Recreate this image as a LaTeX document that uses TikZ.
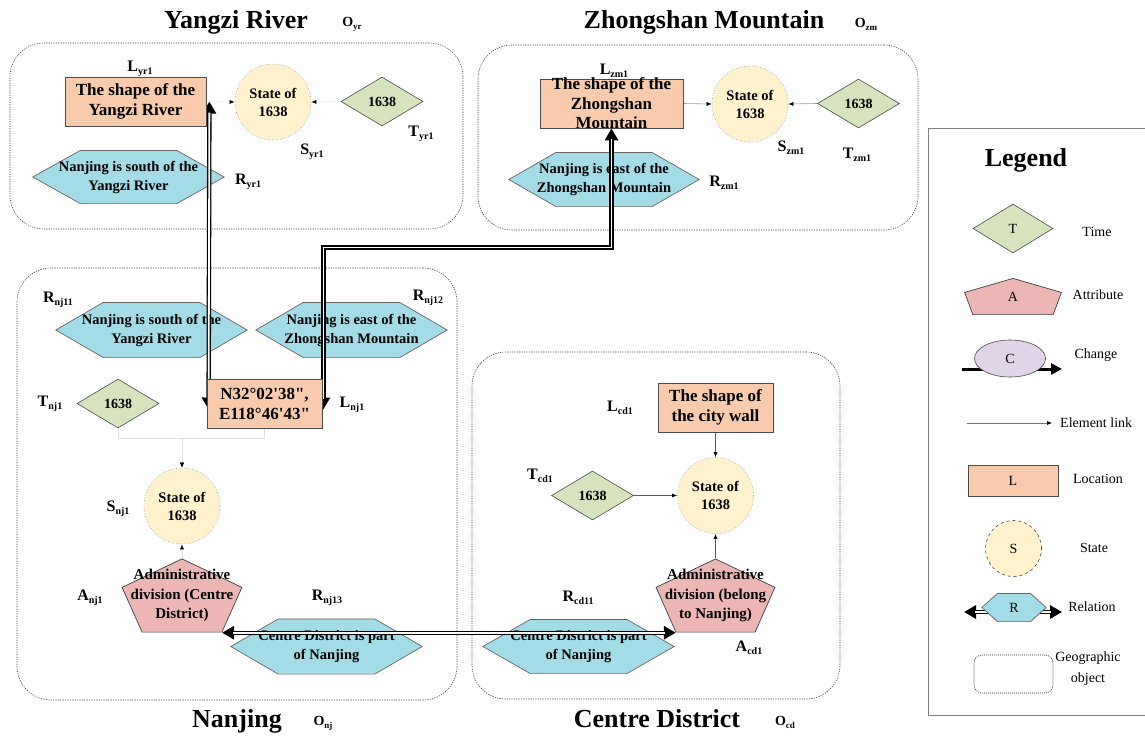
\documentclass[tikz,border=0pt]{standalone}
\usepackage{fontspec}
\setmainfont{Liberation Serif}
\newfontfamily\plainserif{Liberation Serif}[Ligatures=TeXOff]
\usetikzlibrary{arrows.meta,calc,shapes.geometric}
\definecolor{locfill}{HTML}{F8CBAD}
\definecolor{statefill}{HTML}{FFF2CC}
\definecolor{timefill}{HTML}{D6E3BC}
\definecolor{attrfill}{HTML}{EBB6B4}
\definecolor{relfill}{HTML}{A3DBE6}
\definecolor{chgfill}{HTML}{E0D4E8}
\pgfdeclarelayer{bglayer}
\pgfdeclarelayer{hexlayer}
\pgfdeclarelayer{connlayer}
\pgfsetlayers{bglayer,hexlayer,connlayer,main}
\newcommand\lbl[2]{#1\raisebox{-.45ex}{\fontsize{10}{10}\selectfont\bfseries #2}}
\newcommand\olbl[2]{#1\raisebox{-.45ex}{\fontsize{9}{9}\selectfont\bfseries #2}}
\begin{document}
\begin{tikzpicture}[x=1pt,y=-1pt,
 geobox/.style={draw=black!70, dash pattern=on 1.2pt off 1.2pt, line width=0.6pt, rounded corners=34pt},
 title/.style={font=\bfseries\fontsize{26}{30}\selectfont, inner sep=0pt},
 olab/.style={font=\bfseries\fontsize{14}{16}\selectfont, inner sep=0pt},
 nlab/.style={font=\bfseries\fontsize{16}{18}\selectfont, inner sep=0pt},
 locbox/.style={draw=black!70, fill=locfill, line width=0.8pt, inner sep=0pt, align=center, font=\bfseries\fontsize{17}{20}\selectfont},
 loctext/.style={inner sep=0pt, align=center, font=\bfseries\fontsize{17}{19.5}\selectfont},
 statec/.style={circle, fill=statefill, draw=black!35, dotted, line width=0.7pt, minimum size=76pt, inner sep=0pt, align=center, font=\bfseries\fontsize{14.5}{18}\selectfont},
 timed/.style={diamond, fill=timefill, draw=black!70, line width=0.6pt, minimum width=82pt, minimum height=49pt, inner sep=0pt, font=\bfseries\fontsize{14}{16}\selectfont},
 hexa/.style={inner sep=0pt, align=center, font=\bfseries\fontsize{14.5}{19}\selectfont,
   path picture={\draw[fill=relfill, draw=black!60, line width=0.7pt]
     ([xshift=.8pt]path picture bounding box.west)
     -- ([yshift=-.4pt]$(path picture bounding box.north west)!.25!(path picture bounding box.north east)$)
     -- ([yshift=-.4pt]$(path picture bounding box.north west)!.75!(path picture bounding box.north east)$)
     -- ([xshift=-.8pt]path picture bounding box.east)
     -- ([yshift=.4pt]$(path picture bounding box.south west)!.75!(path picture bounding box.south east)$)
     -- ([yshift=.4pt]$(path picture bounding box.south west)!.25!(path picture bounding box.south east)$)
     -- cycle;}},
 pent/.style={inner sep=0pt, align=center, font=\bfseries\fontsize{15}{19.5}\selectfont,
   path picture={\draw[fill=attrfill, draw=black!75, line width=0.7pt]
     ([yshift=-.4pt]$(path picture bounding box.north west)!.5!(path picture bounding box.north east)$)
     -- ([xshift=.6pt]$(path picture bounding box.north west)!.39!(path picture bounding box.south west)$)
     -- ([yshift=.4pt]$(path picture bounding box.south west)!#1!(path picture bounding box.south east)$)
     -- ([yshift=.4pt]$(path picture bounding box.south east)!#1!(path picture bounding box.south west)$)
     -- ([xshift=-.6pt]$(path picture bounding box.north east)!.39!(path picture bounding box.south east)$)
     -- cycle;}},
 link/.style={draw=#1, line width=0.6pt, -{Latex[length=5pt,width=4pt,color=black]}},
 relout/.style={draw=black, line width=4.4pt,
     arrows={Triangle[length=12pt,width=13pt]-Triangle[length=12pt,width=13pt]}},
 relin/.style={draw=white, line width=1.8pt, shorten <=11pt, shorten >=11pt},
 legtxt/.style={font=\fontsize{14}{16}\selectfont, inner sep=0pt, align=center},
 legsym/.style={font=\fontsize{14}{16}\selectfont, inner sep=0pt}
]
\useasboundingbox (0,0) rectangle (1145,740);
\begin{pgfonlayer}{bglayer}
\fill[white] (0,0) rectangle (1145,740);
\end{pgfonlayer}

% ---------- geographic objects ----------
\begin{pgfonlayer}{bglayer}
\node[geobox, minimum width=453pt, minimum height=186pt] (Oyr) at (236.5,136) {};
\node[geobox, minimum width=440pt, minimum height=185pt] (Ozm) at (698,137.5) {};
\node[geobox, minimum width=440pt, minimum height=432pt] (Onj) at (237,484) {};
\node[geobox, minimum width=368pt, minimum height=347pt] (Ocd) at (656,525.5) {};
\end{pgfonlayer}

\node[title] (tyr) at (236,22) {Yangzi River};
\node[olab] (oyr) at (352,24) {\olbl{O}{yr}};
\node[title] (tzm) at (704,22) {Zhongshan Mountain};
\node[olab] (ozm) at (866,24) {\olbl{O}{zm}};
\node[title] (tnj) at (237,721) {Nanjing};
\node[olab] (onj) at (323,723) {\olbl{O}{nj}};
\node[title] (tcd) at (657,719) {Centre District};
\node[olab] (ocd) at (785,722) {\olbl{O}{cd}};

% ---------- Yangzi River ----------
\node[locbox, minimum width=141pt, minimum height=49pt] (Lyr) at (135.5,101.5) {The shape of the\\Yangzi River};
\node[statec] (Syr) at (273,102) {State of\\1638};
\node[timed] (Tyr) at (382,101.5) {1638};
\begin{pgfonlayer}{hexlayer}
\node[hexa, minimum width=193pt, minimum height=54pt] (Ryr) at (128.5,177) {Nanjing is south of the\\Yangzi River};
\end{pgfonlayer}
\node[nlab] (lLyr) at (140,69) {\lbl{L}{yr1}};
\node[nlab] (lSyr) at (312,152) {\lbl{S}{yr1}};
\node[nlab] (lTyr) at (421,134) {\lbl{T}{yr1}};
\node[nlab] (lRyr) at (248,182) {\lbl{R}{yr1}};

% ---------- Zhongshan Mountain ----------
\node[locbox, minimum width=143pt, minimum height=49pt] (Lzm) at (611.5,103.5) {};
\node[loctext] (Lzmtext) at (Lzm.center) {The shape of the\\Zhongshan\\Mountain};
\node[statec] (Szm) at (750,104) {State of\\1638};
\node[timed] (Tzm) at (858.5,103.5) {1638};
\begin{pgfonlayer}{hexlayer}
\node[hexa, minimum width=192pt, minimum height=55pt] (Rzm) at (604,179.5) {Nanjing is east of the\\Zhongshan Mountain};
\end{pgfonlayer}
\node[nlab] (lLzm) at (614,71) {\lbl{L}{zm1}};
\node[nlab] (lSzm) at (791,148) {\lbl{S}{zm1}};
\node[nlab] (lTzm) at (857,155) {\lbl{T}{zm1}};
\node[nlab] (lRzm) at (724,183) {\lbl{R}{zm1}};

% ---------- Nanjing ----------
\begin{pgfonlayer}{hexlayer}
\node[hexa, minimum width=193pt, minimum height=56pt] (Rnj11) at (151.5,330) {Nanjing is south of the\\Yangzi River};
\node[hexa, minimum width=193pt, minimum height=56pt] (Rnj12) at (351.5,330) {Nanjing is east of the\\Zhongshan Mountain};
\node[hexa, minimum width=193pt, minimum height=56pt] (Rnj13) at (326.5,646.5) {Centre District is part\\of Nanjing};
\end{pgfonlayer}
\node[locbox, minimum width=115pt, minimum height=49pt] (Lnj) at (264.5,403.5) {\plainserif\bfseries N32°02'38",\\\plainserif\bfseries E118°46'43"};
\node[timed] (Tnj) at (118,403.5) {1638};
\node[statec] (Snj) at (182,506) {State of\\1638};
\node[pent=.17, minimum width=121pt, minimum height=74pt] (Anj) at (182,595.5) {Administrative\\division (Centre\\District)};
\node[nlab] (lRnj11) at (58,300) {\lbl{R}{nj11}};
\node[nlab] (lRnj12) at (428,298) {\lbl{R}{nj12}};
\node[nlab] (lLnj) at (352,405) {\lbl{L}{nj1}};
\node[nlab] (lTnj) at (50,404) {\lbl{T}{nj1}};
\node[nlab] (lSnj) at (118,509) {\lbl{S}{nj1}};
\node[nlab] (lAnj) at (90,598) {\lbl{A}{nj1}};
\node[nlab] (lRnj13) at (327,598) {\lbl{R}{nj13}};

% ---------- Centre District ----------
\begin{pgfonlayer}{hexlayer}
\node[hexa, minimum width=193pt, minimum height=55pt] (Rcd) at (578.5,646.5) {Centre District is part\\of Nanjing};
\end{pgfonlayer}
\node[locbox, minimum width=115pt, minimum height=49pt] (Lcd) at (715.5,407.5) {The shape of\\the city wall};
\node[statec] (Scd) at (715.5,495.5) {State of\\1638};
\node[timed] (Tcd) at (592.5,495.5) {1638};
\node[pent=.17, minimum width=120pt, minimum height=74pt] (Acd) at (715.5,595.5) {Administrative\\division (belong\\to Nanjing)};
\node[nlab] (lLcd) at (620,408) {\lbl{L}{cd1}};
\node[nlab] (lTcd) at (540,476) {\lbl{T}{cd1}};
\node[nlab] (lAcd) at (749,648) {\lbl{A}{cd1}};
\node[nlab] (lRcd) at (578,598) {\lbl{R}{cd11}};

% ---------- connectors ----------
\begin{pgfonlayer}{connlayer}
\draw[link=black!6] (Lyr.east) -- (Syr.west);
\draw[link=black!6] (Tyr.west) -- (Syr.east);
\draw[link=black!40] (Lzm.east) -- (Szm.west);
\draw[link=black!40] (Tzm.west) -- (Szm.east);
\draw[link=black!12] (Tnj.south) -- ++(0,10) -| (Snj.north);
\draw[link=black!12] (Lnj.south) -- ++(0,10) -| (Snj.north);
\draw[link=black!12] (Anj.north) -- (Snj.south);
\draw[link=black!65] (Lcd.south) -- (Scd.north);
\draw[link=black!65] (Tcd.east) -- (Scd.west);
\draw[link=black!65] (Acd.north) -- (Scd.south);
\draw[relout] ([xshift=3pt]Lyr.east) -- ([xshift=2pt,yshift=-6pt]Lnj.west);
\draw[relin]  ([xshift=3pt]Lyr.east) -- ([xshift=2pt,yshift=-6pt]Lnj.west);
\draw[relout] ([xshift=1pt,yshift=-6pt]Lnj.east) -- ++(0,-162) -| (Lzm.south);
\draw[relin]  ([xshift=1pt,yshift=-6pt]Lnj.east) -- ++(0,-162) -| (Lzm.south);
\draw[relout] ($(Anj.south west)!.83!(Anj.south east)$) -- ($(Acd.south west)!.17!(Acd.south east)$);
\draw[relin]  ($(Anj.south west)!.83!(Anj.south east)$) -- ($(Acd.south west)!.17!(Acd.south east)$);
\end{pgfonlayer}

% ---------- legend ----------
\node[draw=black!50, line width=0.8pt, minimum width=240pt, minimum height=587pt, anchor=north west] (legbox) at (928,128) {};
\node[title] (legtitle) at (1026,160) {Legend};
\node[timed, minimum width=80pt, minimum height=49pt, font=\fontsize{14}{16}\selectfont] (legT) at (1013,228.5) {T};
\node[legtxt] (legTt) at (1097,232) {Time};
\node[pent=.09, minimum width=98pt, minimum height=37pt, font=\fontsize{14}{16}\selectfont] (legA) at (1013,296.5) {A};
\node[legtxt] (legAt) at (1098,295) {Attribute};
\coordinate (chgA) at (962,369);
\coordinate (chgB) at (1062,369);
\draw[line width=3pt, -{Triangle[length=11pt,width=11pt]}] (chgA) -- (chgB);
\node[ellipse, draw=black!70, fill=chgfill, line width=0.6pt, minimum width=71pt, minimum height=37pt, inner sep=0pt, legsym] (legC) at (1010,358.5) {C};
\node[legtxt] (legCt) at (1096,355) {Change};
\node[legtxt, anchor=west] (legEt) at (1060,423) {Element link};
\coordinate (elA) at (967,423);
\draw[link=black!55] (elA) -- ([xshift=-8pt]legEt.west);
\node[locbox, minimum width=90pt, minimum height=31pt, legsym] (legL) at (1013,480.5) {L};
\node[legtxt] (legLt) at (1098,479) {Location};
\node[circle, draw=black!70, dashed, fill=statefill, line width=0.6pt, minimum size=56pt, inner sep=0pt, legsym] (legS) at (1013.5,548.5) {S};
\node[legtxt] (legSt) at (1094,548) {State};
\coordinate (relA) at (964,612);
\coordinate (relB) at (1062,612);
\draw[relout] (relA) -- (relB);
\draw[relin] (relA) -- (relB);
\node[hexa, minimum width=66pt, minimum height=29pt, legsym] (legR) at (1014,607.5) {R};
\node[legtxt] (legRt) at (1092,607) {Relation};
\node[draw=black!80, dash pattern=on 1pt off 1pt, line width=0.6pt, rounded corners=8pt, minimum width=79pt, minimum height=38pt] (legO) at (1013.5,674) {};
\node[legtxt, font=\fontsize{14}{21}\selectfont] (legOt) at (1088,669) {Geographic\\object};
\end{tikzpicture}
\end{document}
